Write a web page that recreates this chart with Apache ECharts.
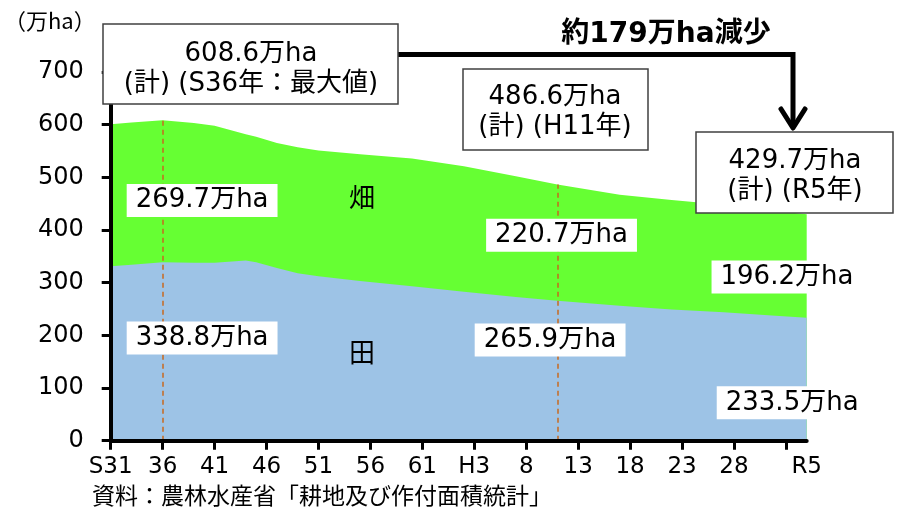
<!DOCTYPE html>
<html>
<head>
<meta charset="utf-8">
<script src="https://cdn.jsdelivr.net/npm/echarts@6/dist/echarts.min.js"></script>
<style>
  html, body { margin: 0; padding: 0; background: #fff; }
  #chart { width: 897px; height: 513px; }
</style>
</head>
<body>
<div id="chart"></div>
<script>
// 年（西暦）と面積（万ha）
var years  = [1956, 1958, 1961, 1964, 1966, 1969, 1970, 1972, 1974, 1976, 1980, 1985, 1990, 1995, 1999, 2005, 2010, 2015, 2020, 2023];
var paddy  = [331, 334, 338.8, 338, 338, 342, 339, 328, 318, 312, 303, 293, 283, 273, 265.9, 256, 249, 244, 237, 233.5];
var upland = [270, 270, 269.7, 265, 260, 240, 238, 237, 239, 239, 241, 243, 238, 229, 220.7, 211, 208, 204, 199, 196.2];

var tickYears  = [1956, 1961, 1966, 1971, 1976, 1981, 1986, 1991, 1996, 2001, 2006, 2011, 2016, 2021];
var labelYears = [1956, 1961, 1966, 1971, 1976, 1981, 1986, 1991, 1996, 2001, 2006, 2011, 2016, 2023];
var tickLabels = ['S31', '36', '41', '46', '51', '56', '61', 'H3', '8', '13', '18', '23', '28', 'R5'];

var FONT = 'DejaVu Sans, Noto Sans CJK JP, sans-serif';

// x軸が数値軸だと stack が x 方向にかかるので、畑は 田+畑 の上端で塗り、田を上から重ねる
function pairs(vals) {
  var out = [];
  for (var i = 0; i < years.length; i++) {
    out.push([years[i], vals[i]]);
  }
  return out;
}
var totalTop = [];
for (var i = 0; i < years.length; i++) {
  totalTop.push(+(paddy[i] + upland[i]).toFixed(1));
}

// 値ラベル（白地）
function valueLabel(name, yr, v) {
  return {
    name: name,
    coord: [yr, v],
    symbolSize: 0,
    label: {
      show: true,
      position: 'inside',
      formatter: name,
      color: '#000',
      fontFamily: FONT,
      fontSize: 26,
      lineHeight: 26,
      backgroundColor: '#fff',
      padding: [4, 9, 3, 9]
    }
  };
}
function plainLabel(name, yr, v) {
  return {
    name: name,
    coord: [yr, v],
    symbolSize: 0,
    label: {
      show: true,
      position: 'inside',
      formatter: name,
      color: '#000',
      fontFamily: 'Noto Sans CJK JP',
      fontSize: 26
    }
  };
}

var chart = echarts.init(document.getElementById('chart'));

var option = {
  animation: false,
  backgroundColor: '#fff',
  grid: { left: 110.7, right: 90.3, top: 72, bottom: 72.3 },
  xAxis: {
    type: 'value',
    min: 1956,
    max: 2023,
    z: 5,
    axisLine: { lineStyle: { color: '#000', width: 4 } },
    axisTick: { show: true, customValues: tickYears, length: 9, lineStyle: { color: '#000', width: 3 } },
    axisLabel: {
      customValues: labelYears,
      margin: 15,
      color: '#000',
      fontFamily: FONT,
      fontSize: 23,
      formatter: function (v) {
        var i = labelYears.indexOf(v);
        return i >= 0 ? tickLabels[i] : '';
      }
    },
    splitLine: { show: false }
  },
  yAxis: {
    type: 'value',
    min: 0,
    max: 700,
    interval: 100,
    z: 5,
    axisLine: { show: true, lineStyle: { color: '#000', width: 4 } },
    axisTick: { show: true, length: 9, lineStyle: { color: '#000', width: 3 } },
    axisLabel: { margin: 27, color: '#000', fontFamily: FONT, fontSize: 24 },
    splitLine: { show: false }
  },
  series: [
    {
      name: '畑',
      type: 'line',
      data: pairs(totalTop),
      showSymbol: false,
      lineStyle: { width: 0 },
      areaStyle: { color: '#66FF33', opacity: 1 },
      markPoint: {
        data: [
          valueLabel('269.7万ha', 1964.8, 456),
          valueLabel('220.7万ha', 1999.4, 390),
          valueLabel('196.2万ha', 2021.1, 311),
          plainLabel('畑', 1980.2, 462)
        ]
      }
    },
    {
      name: '田',
      type: 'line',
      data: pairs(paddy),
      showSymbol: false,
      lineStyle: { width: 0 },
      areaStyle: { color: '#9DC3E6', opacity: 1 },
      markLine: {
        silent: true,
        symbol: 'none',
        label: { show: false },
        lineStyle: { color: '#C8691F', type: [5, 4], width: 1.5 },
        data: [
          [{ coord: [1961, 0] }, { coord: [1961, 608.6] }],
          [{ coord: [1999, 0] }, { coord: [1999, 486.6] }]
        ]
      },
      markPoint: {
        data: [
          valueLabel('338.8万ha', 1964.8, 195),
          valueLabel('265.9万ha', 1998.3, 191),
          valueLabel('233.5万ha', 2021.6, 72),
          plainLabel('田', 1980.2, 168)
        ]
      }
    }
  ],
  graphic: [
    {
      type: 'text', left: 4, top: 10, z: 20,
      style: { text: '（万ha）', fontFamily: 'Noto Sans CJK JP', fontSize: 22, fill: '#000' }
    },
    {
      type: 'polyline', z: 20,
      shape: { points: [[398, 54.5], [793, 54.5], [793, 126]] },
      style: { stroke: '#000', lineWidth: 5, fill: null }
    },
    {
      type: 'polyline', z: 20,
      shape: { points: [[781, 109], [793, 128], [805, 109]] },
      style: { stroke: '#000', lineWidth: 5, fill: null, lineCap: 'round', lineJoin: 'round' }
    },
    {
      type: 'text', x: 666, y: 35, z: 20,
      style: { text: '約179万ha減少', fontFamily: FONT, fontWeight: 'bold', fontSize: 28, fill: '#000', align: 'center', verticalAlign: 'middle' }
    },
    {
      type: 'rect', z: 20,
      shape: { x: 103, y: 24, width: 295, height: 80 },
      style: { fill: '#fff', stroke: '#404040', lineWidth: 1.5 }
    },
    {
      type: 'text', x: 251, y: 69, z: 21,
      style: { text: '608.6万ha\n(計) (S36年：最大値)', fontFamily: FONT, fontSize: 26, lineHeight: 30, fill: '#000', align: 'center', verticalAlign: 'middle' }
    },
    {
      type: 'rect', z: 20,
      shape: { x: 463, y: 69, width: 185, height: 81 },
      style: { fill: '#fff', stroke: '#404040', lineWidth: 1.5 }
    },
    {
      type: 'text', x: 555, y: 112, z: 21,
      style: { text: '486.6万ha\n(計) (H11年)', fontFamily: FONT, fontSize: 26, lineHeight: 30, fill: '#000', align: 'center', verticalAlign: 'middle' }
    },
    {
      type: 'rect', z: 20,
      shape: { x: 696, y: 132, width: 197, height: 81 },
      style: { fill: '#fff', stroke: '#404040', lineWidth: 1.5 }
    },
    {
      type: 'text', x: 795, y: 176, z: 21,
      style: { text: '429.7万ha\n(計) (R5年)', fontFamily: FONT, fontSize: 26, lineHeight: 30, fill: '#000', align: 'center', verticalAlign: 'middle' }
    },
    {
      type: 'text', left: 92, top: 484, z: 20,
      style: { text: '資料：農林水産省「耕地及び作付面積統計」', fontFamily: 'Noto Sans CJK JP', fontSize: 23, fill: '#000' }
    }
  ]
};

chart.setOption(option);
</script>
</body>
</html>
